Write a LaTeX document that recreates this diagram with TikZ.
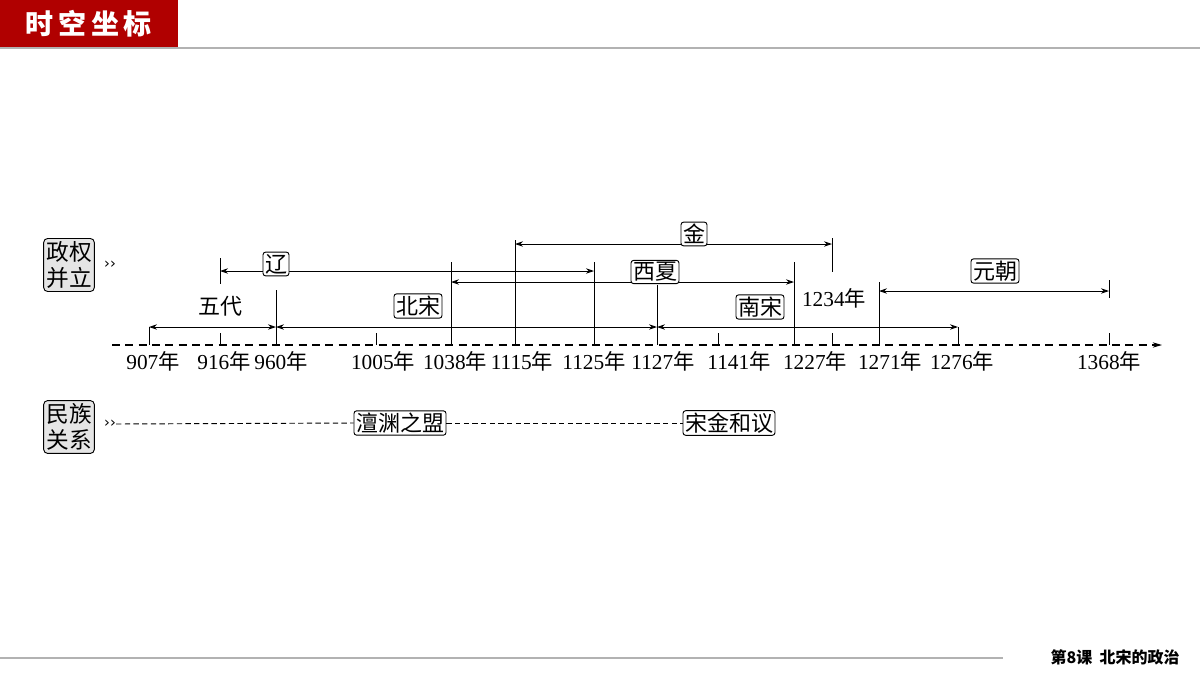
\documentclass[tikz,border=0pt]{standalone}
\usepackage{fontspec}
\setmainfont{Liberation Serif}
\newfontfamily\cjk{Noto Sans CJK SC}
\newfontfamily\djvfont{DejaVu Sans}
\usetikzlibrary{arrows.meta}
\begin{document}
\begin{tikzpicture}[x=0.75pt,y=-0.75pt,
  lbl/.style={draw,rounded corners=2pt,fill=white,inner sep=1.5pt,font=\cjk\fontsize{16.5}{17}\selectfont,line width=0.7pt},
  side/.style={draw,rounded corners=3pt,fill=gray!20,inner sep=2pt,align=center,font=\cjk\fontsize{17}{20}\selectfont,line width=0.7pt},
  yr/.style={font=\fontsize{16}{16}\selectfont,inner sep=0pt},
  span/.style={{Stealth[length=6pt,width=4pt]}-{Stealth[length=6pt,width=4pt]},line width=0.7pt},
  tk/.style={line width=0.7pt}]
\useasboundingbox (0,0) rectangle (1200,675);
\fill[fill={rgb,255:red,176;green,0;blue,0}] (0,0) rectangle (178,47);
\node[text=white,font=\cjk\bfseries\fontsize{21}{22}\selectfont] (title) at (89,24) {时\,空\,坐\,标};
\draw[gray!60,line width=1pt] (0,48) -- (1200,48);
\draw[gray!60,line width=1pt] (0,658) -- (1003,658);
\node[anchor=east,font=\cjk\bfseries\fontsize{12}{12}\selectfont,inner sep=0pt] (foot) at (1180,657) {第8课\ \ 北宋的政治};
% axis
\coordinate (a0) at (112,345); \coordinate (a1) at (1162,345);
\draw[dashed,dash pattern=on 6pt off 4pt,line width=0.8pt,-{Stealth[length=7pt,width=4pt]}] (a0) -- (a1);
% years
\foreach \x/\t in {153/907,224/916,281/960,383/1005,455/1038,522/1115,594/1125,663/1127,739/1141,815/1227,890/1271,962/1276,1109/1368}
  \node[yr] at (\x,361) {\t{\cjk 年}};
\node[yr] (y1234) at (834,298) {1234{\cjk 年}};
% ticks and lines
\foreach \x in {220,376,718,832,1109} \draw[tk] (\x,333) -- (\x,345);
\draw[tk] (149,327) -- (149,345);
\draw[tk] (276,290) -- (276,345);
\draw[tk] (451,262) -- (451,345);
\draw[tk] (515,240) -- (515,345);
\draw[tk] (594,262) -- (594,345);
\draw[tk] (657,285) -- (657,345);
\draw[tk] (794,262) -- (794,345);
\draw[tk] (879,282) -- (879,345);
\draw[tk] (958,327) -- (958,345);
\draw[tk] (220,258) -- (220,284);
\draw[tk] (832,238) -- (832,272);
\draw[tk] (1109,280) -- (1109,298);
% spans
\draw[span] (149,327) -- (276,327);
\node[font=\cjk\fontsize{16.5}{17}\selectfont] (wudai) at (220,306) {五代};
\draw[span] (276,327) -- (657,327);
\node[lbl] (bs) at (418,306) {北宋};
\draw[span] (657,327) -- (958,327);
\node[lbl] (ns) at (760,307) {南宋};
\draw[span] (220,271) -- (594,271);
\node[lbl] (liao) at (276,264) {辽};
\draw[span] (451,282) -- (794,282);
\node[lbl] (xx) at (655,272) {西夏};
\draw[span] (515,244) -- (832,244);
\node[lbl] (jin) at (694,234) {金};
\draw[span] (879,291) -- (1109,291);
\node[lbl] (yuan) at (995,271) {元朝};
% side boxes
\node[side] (zq) at (69,265) {政权\\并立};
\node[font=\djvfont\fontsize{11}{12}\selectfont,inner sep=0pt] (ar1) at (110,265) {››};
\node[side] (mz) at (69,427) {民族\\关系};
\node[font=\djvfont\fontsize{11}{12}\selectfont,inner sep=0pt] (ar2) at (110,424) {››};
\node[lbl] (cy) at (400,423) {澶渊之盟};
\node[lbl] (sj) at (729,423) {宋金和议};
\draw[dashed,dash pattern=on 4pt off 2.5pt,line width=0.7pt] (ar2.east) -- (cy.west);
\draw[dashed,dash pattern=on 4pt off 2.5pt,line width=0.7pt] (cy.east) -- (sj.west);
\end{tikzpicture}
\end{document}
